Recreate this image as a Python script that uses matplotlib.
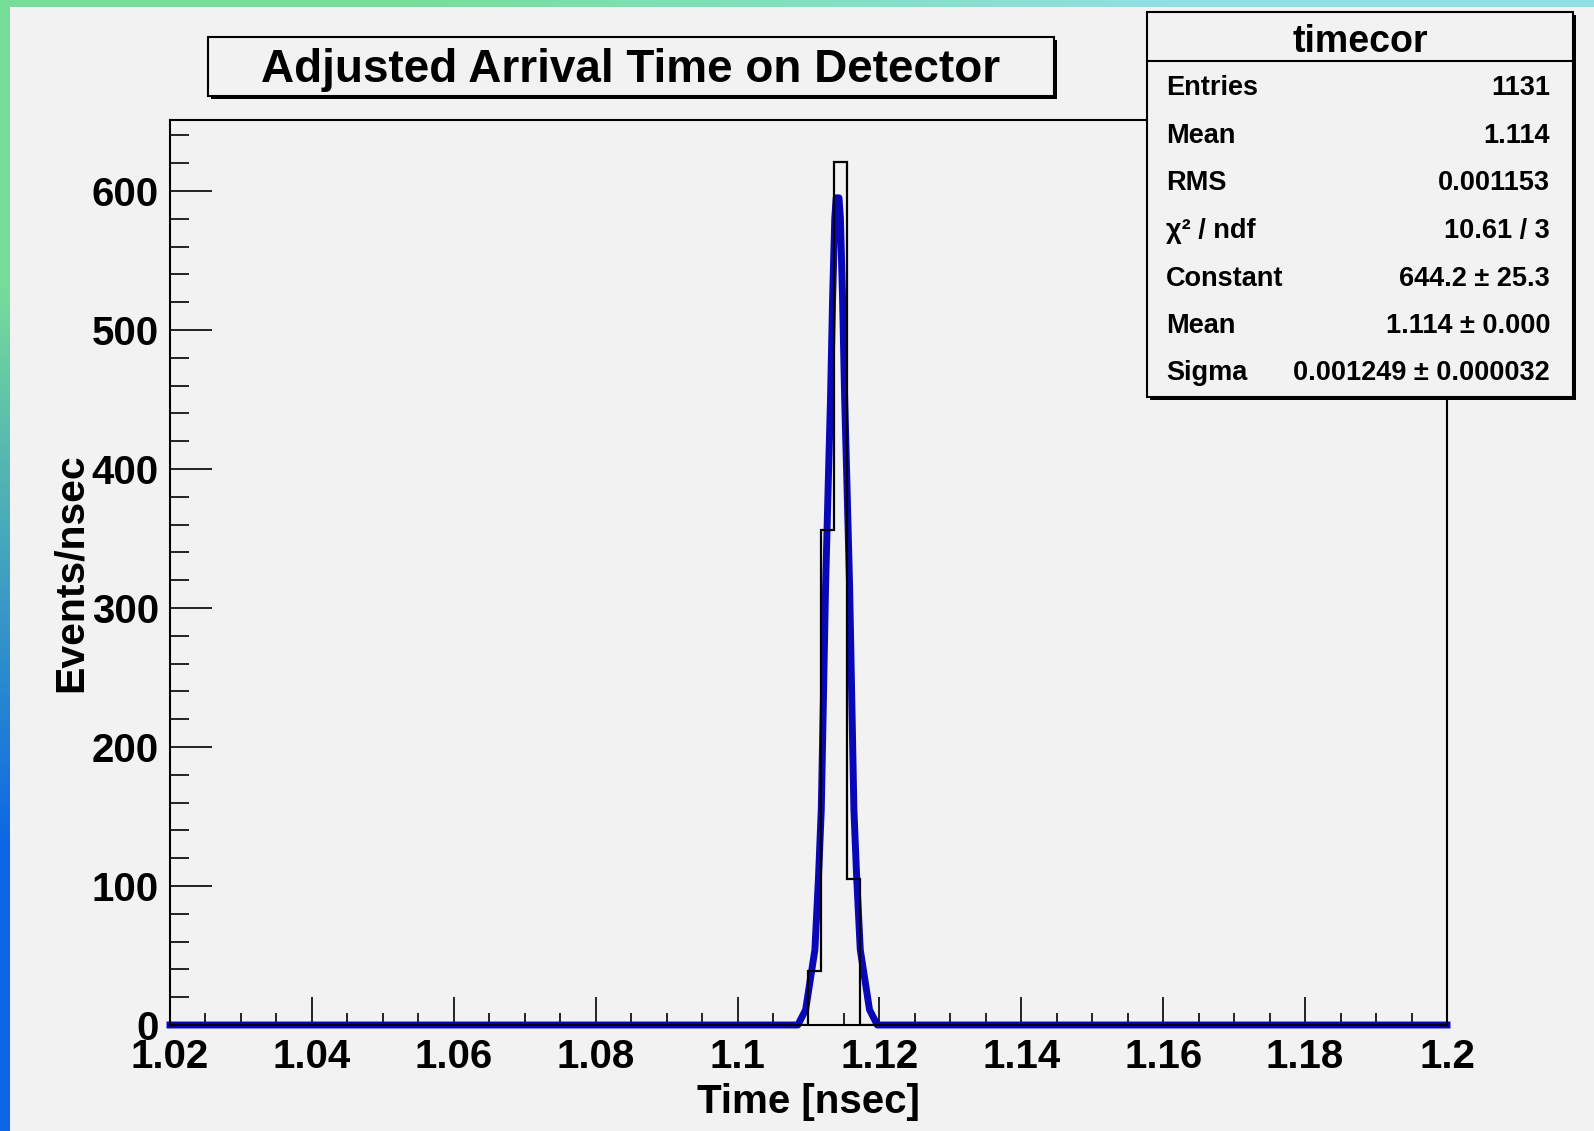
import numpy as np
import matplotlib
matplotlib.use("Agg")
import matplotlib.pyplot as plt
from matplotlib.patches import Rectangle

plt.rcParams['font.family'] = ['Liberation Sans', 'DejaVu Sans']
plt.rcParams['font.weight'] = 'bold'

# histogram: 100 bins from 1.02 to 1.2 nsec, non-empty bins start at bin 50
hist_lo, hist_hi, hist_nbins = 1.02, 1.2, 100
peak_first_bin = 50
peak_counts = [39, 356, 621, 105]

# fitted gaussian as drawn
fit_time = [1.0200, 1.1085, 1.1096, 1.1109, 1.1114, 1.1118, 1.1121, 1.1124, 1.1128,
            1.1131, 1.1134, 1.1137, 1.1139, 1.1143, 1.1145, 1.1148, 1.1151, 1.1154,
            1.1158, 1.1161, 1.1164, 1.1168, 1.1173, 1.1186, 1.1197, 1.2000]
fit_value = [0, 0, 11, 54, 105, 155, 234, 314, 393, 450, 523, 580, 595,
             595, 580, 523, 450, 393, 314, 234, 155, 105, 54, 11, 0, 0]

x_ticks = [1.02, 1.04, 1.06, 1.08, 1.1, 1.12, 1.14, 1.16, 1.18, 1.2]
x_ticklabels = ['1.02', '1.04', '1.06', '1.08', '1.1', '1.12', '1.14', '1.16', '1.18', '1.2']
y_ticks = [0, 100, 200, 300, 400, 500, 600]

stats_title = 'timecor'
stats_names = ['Entries', 'Mean', 'RMS', 'χ² / ndf', 'Constant', 'Mean', 'Sigma']
stats_values = ['1131', '1.114', '0.001153', '10.61 / 3', '644.2 ± 25.3',
                '1.114 ± 0.000', '0.001249 ± 0.000032']

W, H = 1594, 1131
fig = plt.figure(figsize=(W / 100, H / 100), dpi=100)


def fx(px):
    return px / W


def fy(py):
    return 1 - py / H


# desktop-like gradient behind the canvas, canvas drawn on top of it
bg = fig.add_axes([0, 0, 1, 1], zorder=-5)
grad = np.array([[[0.47, 0.87, 0.60], [0.56, 0.88, 0.90]],
                 [[0.05, 0.40, 0.90], [0.30, 0.60, 0.90]]])
bg.imshow(grad, aspect='auto', interpolation='bilinear', extent=[0, 1, 0, 1])
bg.add_patch(Rectangle((fx(10), 0), 1 - fx(10), fy(7), transform=bg.transAxes,
                       facecolor='#f2f2f2', edgecolor='none'))
bg.set_xlim(0, 1)
bg.set_ylim(0, 1)
bg.set_axis_off()

ax = fig.add_axes([fx(170), fy(1025), fx(1447) - fx(170), fy(120) - fy(1025)])
ax.set_facecolor('#f2f2f2')

edges = np.linspace(hist_lo, hist_hi, hist_nbins + 1)
counts = np.zeros(hist_nbins)
counts[peak_first_bin:peak_first_bin + len(peak_counts)] = peak_counts

ax.plot(fit_time, fit_value, color='#0808b8', lw=5, solid_joinstyle='round',
        clip_on=False, zorder=2)
ax.stairs(counts, edges, color='black', lw=1.6, zorder=3)

ax.set_xlim(1.02, 1.2)
ax.set_ylim(0, 651)

ax.set_xticks(x_ticks)
ax.set_xticklabels(x_ticklabels)
ax.set_xticks(np.arange(1.025, 1.2, 0.005), minor=True)
ax.set_yticks(y_ticks)
ax.set_yticks(np.arange(0, 651, 20), minor=True)

ax.tick_params(axis='both', which='both', direction='in', top=False, right=False,
               labelsize=29, width=1.2, color='black')
ax.tick_params(axis='x', which='major', length=20, pad=9)
ax.tick_params(axis='x', which='minor', length=9)
ax.tick_params(axis='y', which='major', length=30, pad=8)
ax.tick_params(axis='y', which='minor', length=14)
for lab in ax.get_xticklabels() + ax.get_yticklabels():
    lab.set_fontweight('bold')

for sp in ax.spines.values():
    sp.set_linewidth(1.5)

ax.set_xlabel('Time [nsec]', fontsize=29, fontweight='bold')
ax.xaxis.set_label_coords(0.5, -(1102 - 1025) / 905)
ax.xaxis.label.set_va('center')
ax.set_ylabel('Events/nsec', fontsize=29.5, fontweight='bold')
ax.yaxis.set_label_coords((71 - 170) / 1277, 0.5)
ax.yaxis.label.set_va('center')


# boxes with ROOT-style shadow
def box(x0, y0, x1, y1, shadow=4):
    fig.patches.append(Rectangle((fx(x0 + shadow), fy(y1 + shadow)), fx(x1 - x0), fy(y0) - fy(y1),
                                 transform=fig.transFigure, facecolor='black',
                                 edgecolor='none', zorder=5))
    fig.patches.append(Rectangle((fx(x0), fy(y1)), fx(x1 - x0), fy(y0) - fy(y1),
                                 transform=fig.transFigure, facecolor='#f2f2f2',
                                 edgecolor='black', lw=1.5, zorder=6))


box(208, 37, 1054, 96, shadow=3)
fig.text(fx(631), fy(70), 'Adjusted Arrival Time on Detector', ha='center', va='center',
         fontsize=33, fontweight='bold', zorder=7)

# stats box
box(1147, 12, 1573, 397, shadow=3)
fig.add_artist(plt.Line2D([fx(1147), fx(1573)], [fy(61), fy(61)], color='black', lw=1.5,
                          zorder=7))
fig.text(fx(1360), fy(42), stats_title, ha='center', va='center', fontsize=27,
         fontweight='bold', zorder=7)
row_y = [88, 136, 183, 231, 279, 326, 373]
for name, val, ry in zip(stats_names, stats_values, row_y):
    fig.text(fx(1166), fy(ry), name, ha='left', va='center', fontsize=19.5,
             fontweight='bold', zorder=7)
    fig.text(fx(1550), fy(ry), val, ha='right', va='center', fontsize=19.5,
             fontweight='bold', zorder=7)

plt.savefig('out.png', dpi=100)
